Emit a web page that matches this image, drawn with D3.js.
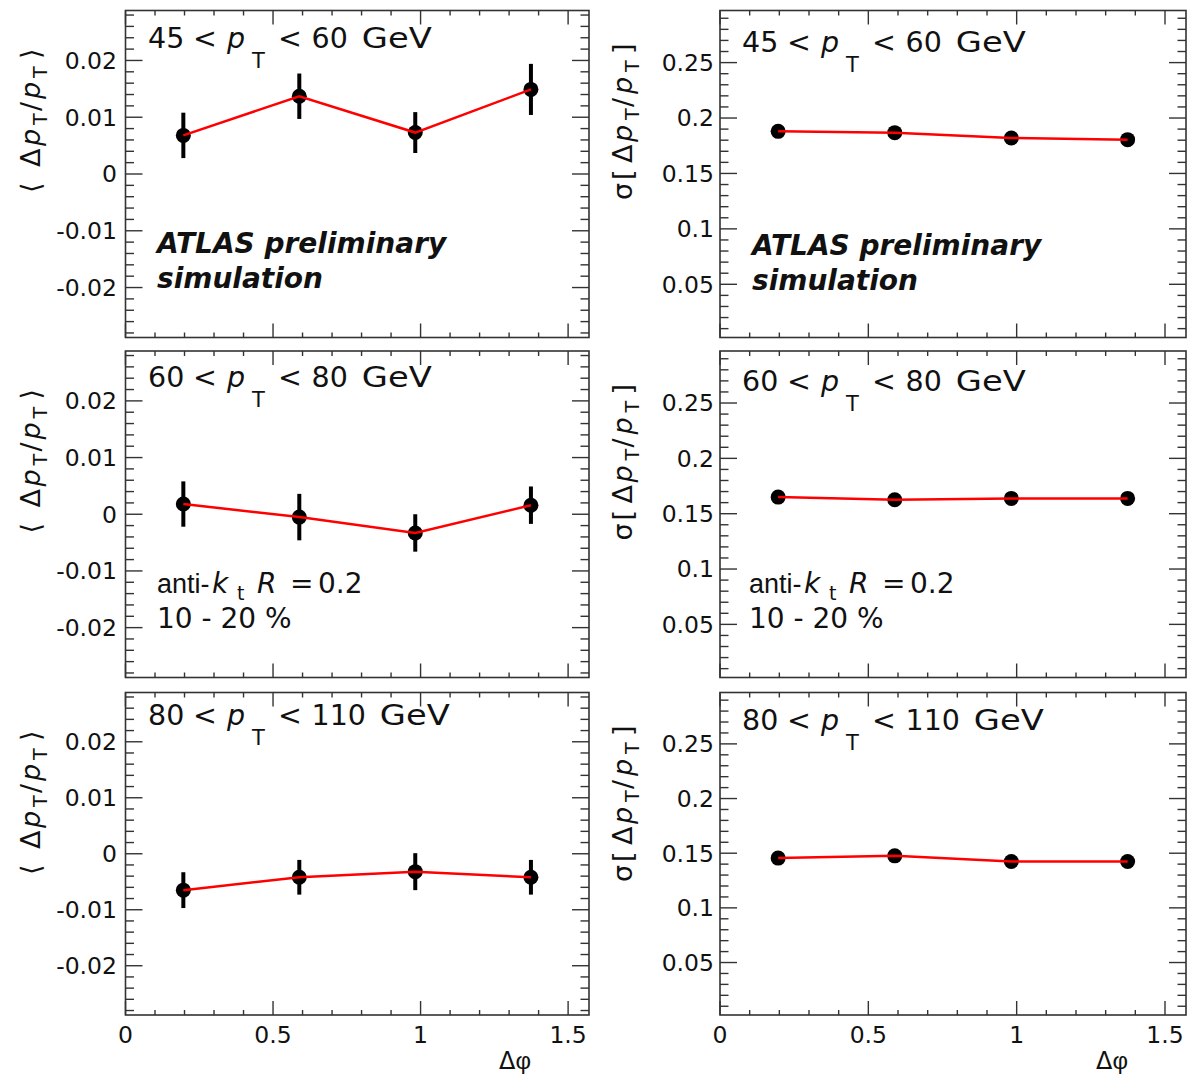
<!DOCTYPE html>
<html>
<head>
<meta charset="utf-8">
<script src="https://cdn.jsdelivr.net/npm/d3@7"></script>
<style>
  html, body { margin: 0; padding: 0; background: #fff; }
  svg { display: block; }
  text { font-family: "DejaVu Sans", "Liberation Sans", sans-serif; fill: #111; }
</style>
</head>
<body>
<svg id="chart" width="1190" height="1077"></svg>
<script>
// ---- data ----
const dphi = [0.196, 0.589, 0.982, 1.374];
const ptLow  = ["45", "60", "80"];
const ptHigh = ["60", "80", "110"];

const meanRow1 = [0.0068, 0.0137, 0.0073, 0.0149];
const meanErr1 = [0.0040, 0.0040, 0.0036, 0.0045];
const meanRow2 = [0.0018, -0.0005, -0.0033, 0.0016];
const meanErr2 = [0.0040, 0.0041, 0.0033, 0.0033];
const meanRow3 = [-0.0065, -0.0042, -0.0032, -0.0042];
const meanErr3 = [0.0032, 0.0031, 0.0033, 0.0031];

const sigmaRow1 = [0.1880, 0.1868, 0.1820, 0.1805];
const sigmaRow2 = [0.1650, 0.1626, 0.1638, 0.1638];
const sigmaRow3 = [0.1455, 0.1476, 0.1424, 0.1424];

const meanTicks  = [-0.02, -0.01, 0, 0.01, 0.02];
const meanTickLabels = ["-0.02", "-0.01", "0", "0.01", "0.02"];
const sigmaTicks = [0.05, 0.1, 0.15, 0.2, 0.25];
const sigmaTickLabels = ["0.05", "0.1", "0.15", "0.2", "0.25"];
const xTicks = [0, 0.5, 1, 1.5];
const xTickLabels = ["0", "0.5", "1", "1.5"];

// ---- layout ----
const svg = d3.select("#chart");
const cols = [{x0: 125.5, x1: 589}, {x0: 720, x1: 1186}];
const rows = [{y0: 10.5, y1: 337.5}, {y0: 351, y1: 677.5}, {y0: 692.5, y1: 1015}];
const meanDomain = [-0.0288, 0.0288];
const sigmaDomain = [0.002, 0.297];
const xDomain = [0, Math.PI / 2];

const meanData = [[meanRow1, meanErr1], [meanRow2, meanErr2], [meanRow3, meanErr3]];
const sigmaData = [sigmaRow1, sigmaRow2, sigmaRow3];

const frameColor = "#333";

function ticksRange(step, dom) {
  const out = [];
  const start = Math.ceil(dom[0] / step - 1e-9);
  const end = Math.floor(dom[1] / step + 1e-9);
  for (let i = start; i <= end; i++) out.push(+(i * step).toFixed(6));
  return out;
}

function drawPanel(ci, ri) {
  const c = cols[ci], r = rows[ri];
  const isMean = ci === 0;
  const x = d3.scaleLinear().domain(xDomain).range([c.x0, c.x1]);
  const y = d3.scaleLinear().domain(isMean ? meanDomain : sigmaDomain).range([r.y1, r.y0]);
  const g = svg.append("g");

  // ticks
  const yMinorStep = isMean ? 0.002 : 0.01;
  const yMajor = isMean ? meanTicks : sigmaTicks;
  const yMinor = ticksRange(yMinorStep, y.domain());
  const tk = g.append("g").attr("stroke", frameColor).attr("stroke-width", 1.4);
  yMinor.forEach(v => {
    const isMaj = yMajor.some(m => Math.abs(m - v) < 1e-9);
    const len = isMaj ? 17 : 8.5;
    tk.append("line").attr("x1", c.x0).attr("x2", c.x0 + len).attr("y1", y(v)).attr("y2", y(v));
    tk.append("line").attr("x1", c.x1).attr("x2", c.x1 - len).attr("y1", y(v)).attr("y2", y(v));
  });
  const xMinor = ticksRange(0.1, x.domain());
  xMinor.forEach(v => {
    const isMaj = Math.abs(v * 2 - Math.round(v * 2)) < 1e-9;
    const len = isMaj ? 14 : 5;
    tk.append("line").attr("x1", x(v)).attr("x2", x(v)).attr("y1", r.y1).attr("y2", r.y1 - len);
    tk.append("line").attr("x1", x(v)).attr("x2", x(v)).attr("y1", r.y0).attr("y2", r.y0 + len);
  });

  // frame
  g.append("rect").attr("x", c.x0).attr("y", r.y0).attr("width", c.x1 - c.x0).attr("height", r.y1 - r.y0)
    .attr("fill", "none").attr("stroke", frameColor).attr("stroke-width", 1.6);

  // y tick labels
  const yLabels = isMean ? meanTickLabels : sigmaTickLabels;
  yMajor.forEach((v, i) => {
    g.append("text").attr("x", c.x0 - (isMean ? 8.5 : 6)).attr("y", y(v)).attr("dy", "0.36em")
      .attr("text-anchor", "end").attr("font-size", 23.5).text(yLabels[i]);
  });

  // x tick labels (bottom row)
  if (ri === 2) {
    xTicks.forEach((v, i) => {
      g.append("text").attr("x", x(v)).attr("y", 1043).attr("text-anchor", "middle")
        .attr("font-size", 23.5).text(xTickLabels[i]);
    });
    const xt = g.append("text").attr("x", c.x1 - 58).attr("y", 1069).attr("text-anchor", "end")
      .attr("font-size", 24);
    xt.append("tspan").text("Δ");
    xt.append("tspan").attr("font-family", "Liberation Sans").text("φ");
  }

  // y title (rotated; local x runs upward from the start point)
  const tx = isMean ? 40 : 632;
  const tyStart = r.y0 + (isMean ? 182.5 : 189.5);
  const yt = g.append("text").attr("transform", `translate(${tx},${tyStart}) rotate(-90)`)
    .attr("font-size", 27);
  const subDy = 7;
  if (isMean) {
    yt.append("tspan").attr("x", 0).attr("y", 0).text("\u27E8");
    yt.append("tspan").attr("x", 26).text("Δ");
    yt.append("tspan").attr("x", 47).attr("font-style", "italic").text("p");
    yt.append("tspan").attr("x", 68).attr("y", subDy).attr("font-size", 19).text("T");
    yt.append("tspan").attr("x", 82).attr("y", 0).text("/");
    yt.append("tspan").attr("x", 94).attr("font-style", "italic").text("p");
    yt.append("tspan").attr("x", 115).attr("y", subDy).attr("font-size", 19).text("T");
    yt.append("tspan").attr("x", 134).attr("y", 0).text("\u27E9");
  } else {
    yt.append("tspan").attr("x", 0).attr("y", 0).text("σ");
    yt.append("tspan").attr("x", 20).text("[");
    yt.append("tspan").attr("x", 37).text("Δ");
    yt.append("tspan").attr("x", 58).attr("font-style", "italic").text("p");
    yt.append("tspan").attr("x", 80).attr("y", subDy).attr("font-size", 19).text("T");
    yt.append("tspan").attr("x", 93).attr("y", 0).text("/");
    yt.append("tspan").attr("x", 106).attr("font-style", "italic").text("p");
    yt.append("tspan").attr("x", 128).attr("y", subDy).attr("font-size", 19).text("T");
    yt.append("tspan").attr("x", 146).attr("y", 0).text("]");
  }

  // pT range label
  const lx = isMean ? 148 : 742;
  const ly = isMean ? [48, 387, 725][ri] : [52, 391, 730][ri];
  const fs = 28.5;
  const lt = g.append("text").attr("y", ly).attr("font-size", fs);
  lt.append("tspan").attr("x", lx).text(ptLow[ri]);
  lt.append("tspan").attr("x", lx + 45).text("<");
  lt.append("tspan").attr("x", lx + 79).attr("font-style", "italic").text("p");
  lt.append("tspan").attr("x", lx + 104).attr("dy", 20).attr("font-size", 21).text("T");
  lt.append("tspan").attr("x", lx + 130).attr("dy", -20).text("<");
  lt.append("tspan").attr("x", lx + 163.5).text(ptHigh[ri]);
  const hiW = ptHigh[ri].length * 0.636 * fs;
  g.append("text").attr("x", lx + 163.5 + hiW + 14).attr("y", ly).attr("font-size", fs)
    .attr("textLength", 70).attr("lengthAdjust", "spacingAndGlyphs").text("GeV");

  // annotations
  const ax = isMean ? 157 : 752;
  if (ri === 0) {
    g.append("text").attr("x", ax).attr("y", isMean ? 253 : 255)
      .attr("font-size", 28).attr("font-weight", "bold").attr("font-style", "italic").text("ATLAS preliminary");
    g.append("text").attr("x", ax).attr("y", isMean ? 288 : 290)
      .attr("font-size", 28).attr("font-weight", "bold").attr("font-style", "italic").text("simulation");
  }
  if (ri === 1) {
    const bx = isMean ? 157 : 749;
    const a = g.append("text").attr("y", 593).attr("font-size", 28);
    a.append("tspan").attr("x", bx).attr("font-family", "Liberation Sans").attr("font-size", 27).text("anti-");
    a.append("tspan").attr("x", bx + 55).attr("font-style", "italic").text("k");
    a.append("tspan").attr("x", bx + 80).attr("dy", 7).attr("font-size", 19).text("t");
    a.append("tspan").attr("x", bx + 100).attr("dy", -7).attr("font-style", "italic").text("R");
    a.append("tspan").attr("x", bx + 133).text("=");
    a.append("tspan").attr("x", bx + 161).text("0.2");
    g.append("text").attr("x", bx).attr("y", 628).attr("font-size", 28).text("10 - 20 %");
  }

  // data
  const vals = isMean ? meanData[ri][0] : sigmaData[ri];
  const errs = isMean ? meanData[ri][1] : null;
  const pts = dphi.map((d, i) => ({x: d, y: vals[i], e: errs ? errs[i] : 0}));
  if (errs) {
    g.append("g").selectAll("line").data(pts).join("line")
      .attr("x1", d => x(d.x)).attr("x2", d => x(d.x))
      .attr("y1", d => y(d.y - d.e)).attr("y2", d => y(d.y + d.e))
      .attr("stroke", "#000").attr("stroke-width", 4);
  }
  g.append("g").selectAll("circle").data(pts).join("circle")
    .attr("cx", d => x(d.x)).attr("cy", d => y(d.y)).attr("r", 7.5).attr("fill", "#000");
  g.append("path").datum(pts)
    .attr("d", d3.line().x(d => x(d.x)).y(d => y(d.y)))
    .attr("fill", "none").attr("stroke", "#ff0000").attr("stroke-width", 2.5);
}

for (let ri = 0; ri < 3; ri++) for (let ci = 0; ci < 2; ci++) drawPanel(ci, ri);
</script>
</body>
</html>
